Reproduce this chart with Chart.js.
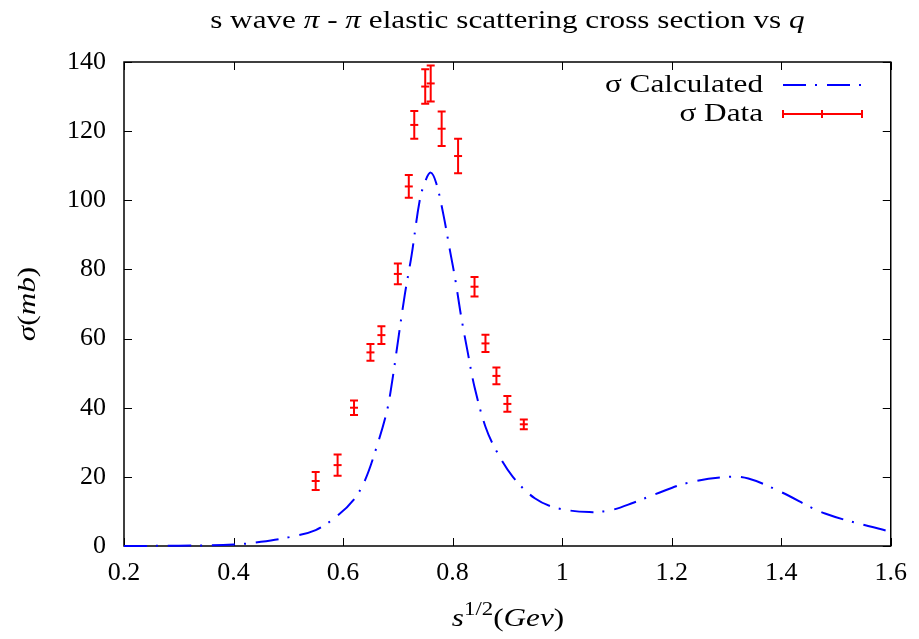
<!DOCTYPE html>
<html><head><meta charset="utf-8">
<script src="https://cdn.jsdelivr.net/npm/chart.js@4/dist/chart.umd.min.js"></script>
<style>html,body{margin:0;padding:0;background:#fff}#wrap{width:919px;height:639px;position:relative}</style>
</head><body><div id="wrap"><canvas id="c"></canvas></div>
<script>
// ---- text ----
const titleParts = [["s wave ", false], ["\u03C0", true], [" - ", false], ["\u03C0", true], [" elastic scattering cross section vs ", false], ["q", true]];
const yTitleParts = [["\u03C3", true], ["(", false], ["mb", true], [")", false]];
const legendCalc = "\u03C3 Calculated";
const legendData = "\u03C3 Data";

// ---- ticks ----
const xTicks = [0.2, 0.4, 0.6, 0.8, 1.0, 1.2, 1.4, 1.6];
const xTickLabels = ["0.2", "0.4", "0.6", "0.8", "1", "1.2", "1.4", "1.6"];
const yTicks = [0, 20, 40, 60, 80, 100, 120, 140];
const yTickLabels = ["0", "20", "40", "60", "80", "100", "120", "140"];

// ---- calculated curve ----
const calcX = [0.20, 0.30, 0.40, 0.45, 0.50, 0.55, 0.59, 0.62, 0.64, 0.66, 0.68, 0.69, 0.70, 0.713, 0.725, 0.74, 0.75, 0.76, 0.77, 0.783, 0.795, 0.805, 0.816, 0.828, 0.84, 0.86, 0.88, 0.91, 0.95, 0.99, 1.05, 1.09, 1.13, 1.17, 1.23, 1.30, 1.34, 1.40, 1.48, 1.60];
const calcY = [0.0, 0.1, 0.4, 1.2, 2.5, 4.6, 8.8, 13.5, 19.0, 28.0, 39.0, 48.0, 59.0, 73.0, 84.0, 100.0, 105.5, 108.0, 105.0, 96.0, 85.6, 77.0, 66.0, 55.7, 46.0, 34.5, 27.5, 20.0, 13.8, 11.0, 9.8, 10.4, 12.5, 15.0, 18.3, 20.0, 19.5, 15.6, 9.4, 4.1];

// ---- measured data with error bars ----
const dataX = [0.55, 0.59, 0.62, 0.65, 0.67, 0.70, 0.72, 0.73, 0.75, 0.76, 0.78, 0.81, 0.84, 0.86, 0.88, 0.90, 0.93];
const dataY = [18.8, 23.4, 40.0, 56.0, 61.0, 78.7, 104.0, 121.8, 132.9, 133.8, 120.7, 112.8, 75.0, 58.6, 49.2, 41.1, 35.2];
const dataErr = [2.6, 3.1, 2.1, 2.4, 2.6, 3.0, 3.3, 4.0, 5.0, 5.2, 5.0, 5.0, 2.8, 2.5, 2.4, 2.3, 1.4];

const FONT = '"Liberation Serif", "Times New Roman", serif';
const FS = 26;
const SX = 1.2; // horizontal stretch for word text (Computer Modern look)
const BLUE = '#0000ff', RED = '#ff0000';
const DASH = [23, 9, 2, 10];

function fnt(it, size) { return (it ? 'italic ' : '') + size + 'px ' + FONT; }
function measureParts(ctx, parts) {
  return parts.map(p => { ctx.font = fnt(p[1], p[2] || FS); return ctx.measureText(p[0]).width * SX; });
}
function drawPartsAt(ctx, parts, x0, y) {
  const ws = measureParts(ctx, parts);
  let x = x0;
  parts.forEach((p, i) => {
    ctx.font = fnt(p[1], p[2] || FS);
    ctx.save(); ctx.translate(x, y + (p[3] || 0)); ctx.scale(SX, 1); ctx.fillText(p[0], 0, 0); ctx.restore();
    x += ws[i];
  });
  return ws.reduce((s, v) => s + v, 0);
}
function drawPartsCentered(ctx, parts, cx, y) {
  const w = measureParts(ctx, parts).reduce((s, v) => s + v, 0);
  drawPartsAt(ctx, parts, cx - w / 2, y);
}
function drawPartsRight(ctx, parts, rx, y) {
  const w = measureParts(ctx, parts).reduce((s, v) => s + v, 0);
  drawPartsAt(ctx, parts, rx - w, y);
}

const decor = {
  id: 'decor',
  beforeDatasetsDraw(chart) {
    const {ctx, chartArea: a, scales: {x, y}} = chart;
    ctx.save();
    ctx.strokeStyle = '#000';
    ctx.lineWidth = 1;
    const TL = 8;
    ctx.beginPath();
    xTicks.forEach(v => { const px = Math.round(x.getPixelForValue(v)) + 0.5; ctx.moveTo(px, a.bottom); ctx.lineTo(px, a.bottom - TL); ctx.moveTo(px, a.top); ctx.lineTo(px, a.top + TL); });
    yTicks.forEach(v => { const py = Math.round(y.getPixelForValue(v)) + 0.5; ctx.moveTo(a.left, py); ctx.lineTo(a.left + TL, py); ctx.moveTo(a.right, py); ctx.lineTo(a.right - TL, py); });
    ctx.stroke();
    ctx.lineWidth = 1.5;
    ctx.strokeRect(a.left, a.top, a.right - a.left, a.bottom - a.top);
    ctx.restore();
  },
  afterDatasetsDraw(chart) {
    const {ctx, chartArea: a, scales: {x, y}} = chart;
    ctx.save();
    // error bars
    ctx.strokeStyle = RED; ctx.lineWidth = 2;
    ctx.beginPath();
    dataX.forEach((v, i) => {
      const px = x.getPixelForValue(v);
      const t = y.getPixelForValue(dataY[i] + dataErr[i]);
      const b = y.getPixelForValue(dataY[i] - dataErr[i]);
      ctx.moveTo(px, t); ctx.lineTo(px, b);
      ctx.moveTo(px - 4, t); ctx.lineTo(px + 4, t);
      ctx.moveTo(px - 4, b); ctx.lineTo(px + 4, b);
    });
    ctx.stroke();
    ctx.fillStyle = '#000';
    ctx.textBaseline = 'alphabetic';
    ctx.textAlign = 'left';
    // title
    drawPartsCentered(ctx, titleParts, (a.left + a.right) / 2, 28);
    // x title
    const xTitleParts = [["s", true], ["1/2", false, 19, -11], ["(", false], ["Gev", true], [")", false]];
    drawPartsCentered(ctx, xTitleParts, 508, 626);
    // y title
    ctx.save();
    ctx.translate(35, (a.top + a.bottom) / 2);
    ctx.rotate(-Math.PI / 2);
    drawPartsCentered(ctx, yTitleParts, 0, 0);
    ctx.restore();
    // legend
    ctx.textBaseline = 'middle';
    drawPartsRight(ctx, [[legendCalc, false]], 763, 85);
    drawPartsRight(ctx, [[legendData, false]], 763, 114);
    ctx.strokeStyle = BLUE; ctx.lineWidth = 2; ctx.setLineDash(DASH);
    ctx.beginPath(); ctx.moveTo(783, 85); ctx.lineTo(862, 85); ctx.stroke();
    ctx.setLineDash([]);
    ctx.strokeStyle = RED;
    ctx.beginPath();
    ctx.moveTo(783, 114); ctx.lineTo(862, 114);
    ctx.moveTo(783, 110); ctx.lineTo(783, 118);
    ctx.moveTo(862, 110); ctx.lineTo(862, 118);
    ctx.moveTo(822, 110); ctx.lineTo(822, 118);
    ctx.stroke();
    ctx.restore();
  }
};

new Chart(document.getElementById('c'), {
  type: 'scatter',
  data: {
    datasets: [
      {
        label: legendCalc,
        data: calcX.map((v, i) => ({x: v, y: calcY[i]})),
        showLine: true,
        borderColor: BLUE,
        borderWidth: 2,
        borderDash: DASH,
        pointRadius: 0,
        tension: 0.35,
        fill: false,
        clip: 4
      },
      {
        label: legendData,
        data: dataX.map((v, i) => ({x: v, y: dataY[i]})),
        showLine: false,
        pointStyle: 'line',
        pointRadius: 4,
        borderColor: RED,
        backgroundColor: RED,
        borderWidth: 2,
        clip: false
      }
    ]
  },
  options: {
    responsive: true,
    maintainAspectRatio: false,
    animation: false,
    events: [],
    layout: {padding: {top: 62, right: 24, left: 0, bottom: 0}},
    plugins: {legend: {display: false}, title: {display: false}, tooltip: {enabled: false}},
    scales: {
      x: {
        type: 'linear', min: 0.2, max: 1.6,
        afterBuildTicks: s => { s.ticks = xTicks.map(v => ({value: v})); },
        afterFit: s => { s.height = 93; },
        grid: {display: false, drawTicks: false},
        border: {display: false},
        ticks: {color: '#000', padding: 12, maxRotation: 0, autoSkip: false, font: {family: FONT, size: FS},
          callback: (v, i) => xTickLabels[i]}
      },
      y: {
        type: 'linear', min: 0, max: 140,
        afterBuildTicks: s => { s.ticks = yTicks.map(v => ({value: v})); },
        afterFit: s => { s.width = 124; },
        grid: {display: false, drawTicks: false},
        border: {display: false},
        ticks: {color: '#000', padding: 18, autoSkip: false, font: {family: FONT, size: FS},
          callback: (v, i) => yTickLabels[i]}
      }
    }
  },
  plugins: [decor]
});
</script>
</body></html>
